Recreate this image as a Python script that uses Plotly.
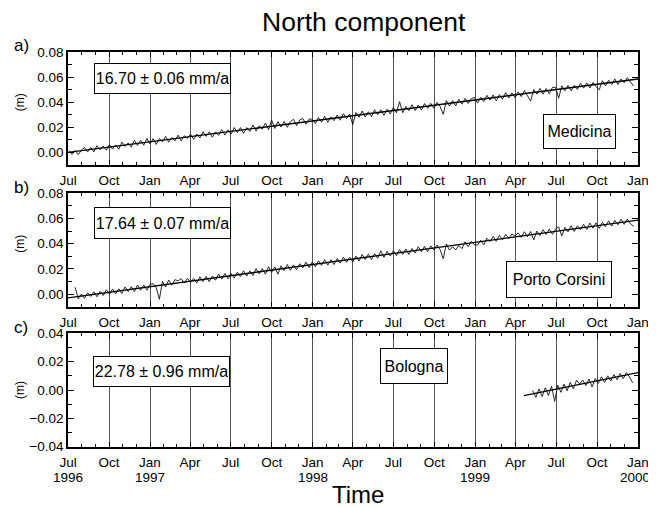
import pandas as pd
import plotly.graph_objects as go

FONT = "Liberation Sans, Arial, sans-serif"

# ---------------- data (values in mm) ----------------
medicina_start = "1996-07-03"
medicina_mm = [
    1.5, -1.7, 1.6, -1.8, 1.8, 3.8, 0.4, 4.0, 0.4, 5.4, 2.2, 5.1, 1.8,
    6.2, 2.7, 6.0, 2.6, 8.2, 4.8, 7.6, 4.2, 9.7, 5.6, 9.6, 5.8, 11.2,
    6.8, 11.0, 6.4, 11.1, 8.4, 12.8, 8.2, 11.9, 9.2, 13.8, 9.2, 13.3, 11.2,
    14.6, 10.4, 14.7, 11.5, 16.5, 12.8, 16.4, 12.1, 16.4, 13.6, 18.2, 13.8, 18.0,
    14.6, 19.8, 15.8, 19.8, 15.2, 19.8, 16.7, 21.9, 17.0, 21.3, 18.4, 23.4, 18.1,
    25.8, 19.1, 24.5, 20.2, 24.7, 20.0, 24.5, 26.4, 21.3, 25.9, 27.0, 22.5, 26.5,
    26.6, 23.0, 27.8, 24.2, 28.7, 24.0, 28.3, 25.3, 29.8, 25.7, 30.9, 27.0, 30.6,
    22.1, 31.8, 28.0, 33.0, 28.2, 32.4, 28.5, 34.0, 30.1, 34.0, 29.5, 34.4, 30.7,
    35.8, 31.6, 40.4, 31.6, 36.7, 33.2, 38.0, 33.3, 37.7, 33.7, 38.9, 35.2, 39.1,
    35.2, 39.8, 36.5, 30.4, 41.3, 36.9, 41.3, 37.1, 42.3, 38.5, 43.1, 39.0, 42.9,
    43.8, 39.4, 43.9, 40.6, 45.5, 41.7, 45.8, 41.1, 46.0, 42.4, 47.7, 43.3, 47.4,
    43.5, 48.2, 44.5, 49.3, 45.0, 40.9, 50.1, 46.4, 51.0, 46.4, 50.9, 46.8, 51.8,
    51.9, 43.2, 53.1, 49.1, 53.4, 49.1, 53.5, 50.2, 55.1, 51.2, 55.4, 51.3, 55.7,
    52.3, 49.9, 57.1, 53.0, 57.5, 54.0, 58.5, 54.1, 58.5, 55.5, 59.5, 56.0, 52.9,
]
medicina_trend_dates = ["1996-07-01", "2000-01-01"]
medicina_trend_mm = [0.0, 58.5]

porto_start = "1996-07-17"
porto_mm = [
    5.4, -3.7, 0.0, -3.4, 1.0, -1.9, 1.8, -2.1, 2.1, -1.1, 3.4, 0.0,
    4.0, 0.2, 4.2, 0.5, 5.7, 2.0, 5.8, 2.0, 7.2, 3.1, 7.2, 3.1, 7.7,
    8.3, 5.1, -4.1, 10.1, 5.6, 11.1, 7.1, 11.5, 10.5, 12.3, 8.8, 12.5, 9.3,
    12.4, 8.9, 13.7, 9.9, 14.0, 9.8, 14.3, 11.0, 15.9, 11.9, 16.3, 12.1, 16.4,
    12.7, 17.4, 13.9, 18.5, 14.3, 18.4, 14.7, 20.2, 16.1, 20.3, 15.8, 21.7, 17.2,
    21.6, 15.8, 22.5, 18.5, 23.5, 18.9, 23.2, 19.3, 24.1, 20.8, 25.4, 21.0, 25.4,
    21.8, 26.4, 22.8, 27.3, 23.0, 27.3, 23.4, 28.3, 24.6, 29.4, 25.2, 29.2, 25.6,
    30.2, 26.2, 31.5, 27.4, 31.7, 27.4, 32.1, 28.5, 34.4, 29.2, 34.0, 30.3, 34.4,
    30.5, 35.3, 31.5, 35.8, 31.5, 36.2, 32.6, 37.6, 33.6, 37.9, 33.6, 38.3, 35.1,
    39.0, 35.1, 28.1, 39.8, 34.9, 37.7, 35.0, 38.6, 36.1, 41.5, 37.6, 41.9, 39.1,
    38.9, 42.7, 39.1, 44.4, 41.6, 45.7, 41.9, 46.6, 43.1, 47.4, 44.2, 47.8, 46.0,
    48.6, 45.1, 49.5, 45.4, 49.7, 43.0, 50.0, 46.4, 51.1, 47.3, 51.6, 47.5, 51.7,
    53.4, 46.1, 52.9, 49.4, 54.2, 49.7, 54.2, 51.1, 55.4, 51.3, 56.4, 52.3, 56.5,
    52.2, 57.0, 53.5, 58.1, 54.0, 58.5, 55.0, 59.4, 55.4, 59.5, 55.8, 53.8,
]
porto_trend_dates = ["1996-07-01", "2000-01-01"]
porto_trend_mm = [-3.0, 58.7]

bologna_start = "1999-05-10"
bologna_mm = [
    -0.5, -5.2, 0.8, -4.6, 1.6, -3.9, 2.6, -8.0, 3.4, -1.6, 4.1, -0.5,
    5.4, 0.8, 6.9, 4.2, 7.0, 3.1, 7.8, 2.2, 8.1, 4.6, 9.3, 5.4, 10.0,
    6.4, 10.8, 7.2, 11.6, 8.0, 12.3, 9.2, 5.0,
]
bologna_trend_dates = ["1999-04-20", "2000-01-01"]
bologna_trend_mm = [-4.0, 12.2]

rates = ["16.70 ± 0.06 mm/a", "17.64 ± 0.07 mm/a", "22.78 ± 0.96 mm/a"]
stations = ["Medicina", "Porto Corsini", "Bologna"]
panel_letters = ["a)", "b)", "c)"]

tick_dates = pd.date_range("1996-07-01", "2000-01-01", freq="QS-JAN")
tick_text = [d.strftime("%b") for d in tick_dates]
minor_dates = pd.date_range("1996-07-01", "2000-01-01", freq="MS")
year_dates = ["1996-07-01", "1997-01-01", "1998-01-01", "1999-01-01", "2000-01-01"]
year_text = ["1996", "1997", "1998", "1999", "2000"]

y_ranges = [[-0.01, 0.08], [-0.01, 0.08], [-0.04, 0.04]]
y_ticks = [[0.0, 0.02, 0.04, 0.06, 0.08], [0.0, 0.02, 0.04, 0.06, 0.08],
           [-0.04, -0.02, 0.0, 0.02, 0.04]]
y_minor = [[-0.01, 0.01, 0.03, 0.05, 0.07], [-0.01, 0.01, 0.03, 0.05, 0.07],
           [-0.03, -0.01, 0.01, 0.03]]
# ---------------------------------------------------------------------------

# The page body has an 8px margin, so the figure is drawn 8px in from the
# window's top-left corner; positions below are given in window pixels.
OFF = 8
W, H = 656 - OFF, 508 - OFF
X0, X1 = 68, 638
panels_px = [(52, 165), (193.3, 306.7), (333.3, 446.7)]

def px_x(x):
    return (x - OFF) / W

def px_y(y):
    return 1 - (y - OFF) / H

series = [
    (medicina_start, medicina_mm, medicina_trend_dates, medicina_trend_mm),
    (porto_start, porto_mm, porto_trend_dates, porto_trend_mm),
    (bologna_start, bologna_mm, bologna_trend_dates, bologna_trend_mm),
]

fig = go.Figure()
layout = {}
annotations = []
for i, (start, vals, tdates, tvals) in enumerate(series):
    n = i + 1
    xa = "x" if n == 1 else f"x{n}"
    ya = "y" if n == 1 else f"y{n}"
    dates = pd.date_range(start, periods=len(vals), freq="7D")
    fig.add_trace(go.Scatter(x=dates, y=[v / 1000 for v in vals], mode="lines",
                             line=dict(color="#111111", width=0.9),
                             xaxis=xa, yaxis=ya, showlegend=False, hoverinfo="skip"))
    fig.add_trace(go.Scatter(x=tdates, y=[v / 1000 for v in tvals], mode="lines",
                             line=dict(color="black", width=1.3),
                             xaxis=xa, yaxis=ya, showlegend=False, hoverinfo="skip"))
    top, bot = panels_px[i]
    layout[f"xaxis{'' if n == 1 else n}"] = dict(
        domain=[px_x(X0), px_x(X1)], anchor=ya, type="date", automargin=False,
        range=["1996-07-01", "2000-01-01"],
        tickvals=list(tick_dates), ticktext=tick_text,
        ticks="inside", ticklen=5, tickwidth=1, tickcolor="black",
        ticklabelstandoff=2,
        minor=dict(tickvals=list(minor_dates), ticks="inside", ticklen=3,
                   tickcolor="black", tickwidth=1, showgrid=False),
        showgrid=True, gridcolor="#555555", gridwidth=1,
        showline=True, linecolor="black", linewidth=1.5, mirror="allticks",
        zeroline=False, tickfont=dict(family=FONT, size=13.5, color="black"),
        tickangle=0,
    )
    layout[f"yaxis{'' if n == 1 else n}"] = dict(
        domain=[px_y(bot), px_y(top)], anchor=xa, automargin=False,
        range=y_ranges[i], tickvals=y_ticks[i], tickformat=".2f",
        ticks="inside", ticklen=6, tickwidth=1, tickcolor="black",
        minor=dict(tickvals=y_minor[i], ticks="inside", ticklen=4,
                   tickcolor="black", tickwidth=1, showgrid=False),
        showgrid=False, zeroline=False,
        showline=True, linecolor="black", linewidth=1.5, mirror="allticks",
        tickfont=dict(family=FONT, size=13.5, color="black"),
    )
    mid_val = (y_ticks[i][0] + y_ticks[i][-1]) / 2
    annotations.append(dict(text="(m)", xref="paper", yref=ya, x=px_x(20), y=mid_val,
                            xanchor="center", yanchor="middle",
                            textangle=-90, showarrow=False,
                            font=dict(family=FONT, size=12, color="black")))
    annotations.append(dict(text=panel_letters[i], xref="paper", yref="paper",
                            x=px_x(21), y=px_y(top - 6), xanchor="center", yanchor="middle",
                            showarrow=False, font=dict(family=FONT, size=17, color="black")))

# text boxes: (text, left, top, width, height) in window pixels
boxes = [
    (rates[0], 94, 63, 133, 27),
    (stations[0], 543, 114, 69, 31),
    (rates[1], 94, 207, 133, 28),
    (stations[1], 506, 261, 102, 33),
    (rates[2], 93, 356, 133, 27),
    (stations[2], 380, 348, 64, 32),
]
for text, left, top, w, h in boxes:
    annotations.append(dict(text=text, xref="paper", yref="paper",
                            x=px_x(left), y=px_y(top), xanchor="left", yanchor="top",
                            width=w, height=h, align="center", valign="middle",
                            showarrow=False, bgcolor="white", bordercolor="black",
                            borderwidth=1, borderpad=1,
                            font=dict(family=FONT, size=16, color="black")))

for j, (d, t) in enumerate(zip(year_dates, year_text)):
    annotations.append(dict(text=t, xref="x3", yref="paper", x=d, y=px_y(477),
                            xanchor="center", yanchor="middle", showarrow=False,
                            xshift=-3 if j == len(year_dates) - 1 else 0,
                            font=dict(family=FONT, size=13.5, color="black")))

annotations.append(dict(text="North component", xref="paper", yref="paper",
                        x=px_x(364), y=px_y(22), xanchor="center", yanchor="middle",
                        showarrow=False, font=dict(family=FONT, size=26.5, color="black")))
annotations.append(dict(text="Time", xref="paper", yref="paper",
                        x=px_x(358), y=px_y(494), xanchor="center", yanchor="middle",
                        showarrow=False, font=dict(family=FONT, size=24, color="black")))

fig.update_layout(
    template="none",
    width=W, height=H, margin=dict(l=0, r=0, t=0, b=0, pad=0),
    paper_bgcolor="white", plot_bgcolor="white",
    annotations=annotations, showlegend=False, **layout,
)

fig.write_html("out.html")
